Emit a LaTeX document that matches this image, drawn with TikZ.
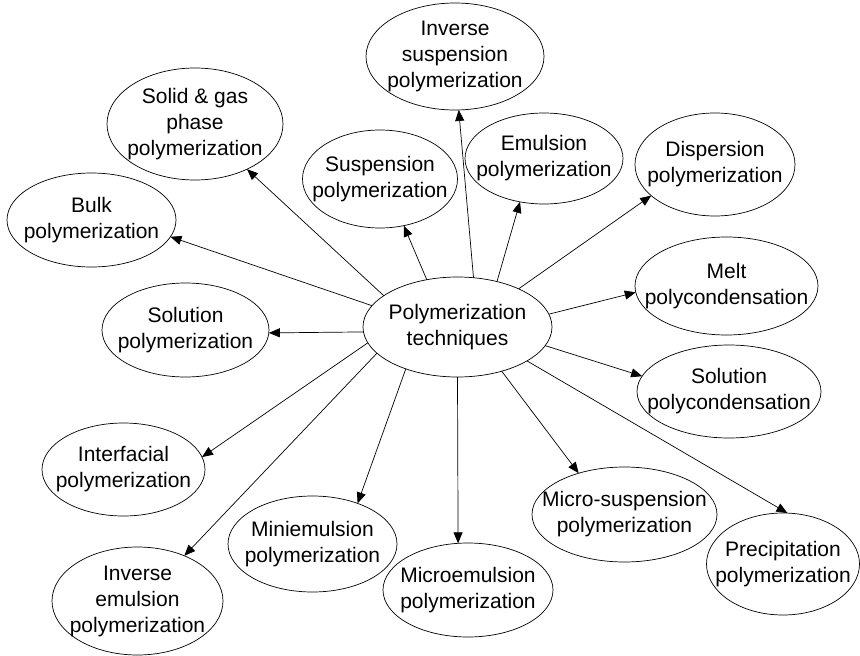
\documentclass[tikz,border=0pt]{standalone}
\usepackage{fontspec}
\setmainfont{Liberation Sans}
\usetikzlibrary{shapes.geometric,arrows.meta}
\tikzset{
  el/.style n args={3}{ellipse, draw, line width=0.7pt, minimum width=#1pt, minimum height=#2pt,
    inner sep=0pt, outer sep=0pt,
    label={[align=center, font=\fontsize{21}{26}\selectfont, inner sep=0pt]center:#3}},
  arr/.style={line width=0.7pt, -{Triangle[length=11pt,width=9pt]}}
}
\begin{document}
\begin{tikzpicture}[x=1pt,y=-1pt]
\useasboundingbox (0,0) rectangle (860,656);
\node[el={189}{100}{Polymerization\\techniques}] (c) at (457.5,327) {};
\node[el={178}{107}{Inverse\\suspension\\polymerization}] (isp) at (455,56.5) {};
\node[el={155}{98}{Suspension\\polymerization}] (sus) at (380,179) {};
\node[el={158}{91}{Emulsion\\polymerization}] (emu) at (544,158.5) {};
\node[el={160}{103}{Dispersion\\polymerization}] (dis) at (715,164.5) {};
\node[el={183}{98}{Melt\\polycondensation}] (mel) at (726.5,286) {};
\node[el={184}{93}{Solution\\polycondensation}] (spc) at (729,391.5) {};
\node[el={153}{102}{Precipitation\\polymerization}] (pre) at (783,564) {};
\node[el={185}{95}{Micro-suspension\\polymerization}] (msu) at (624.5,514.5) {};
\node[el={170}{94}{Microemulsion\\polymerization}] (mie) at (468,590) {};
\node[el={169}{96}{Miniemulsion\\polymerization}] (mne) at (312.5,544) {};
\node[el={171}{108}{Inverse\\emulsion\\polymerization}] (iem) at (137.5,601) {};
\node[el={163}{93}{Interfacial\\polymerization}] (int) at (123.5,469.5) {};
\node[el={167}{94}{Solution\\polymerization}] (sol) at (185.5,330) {};
\node[el={169}{94}{Bulk\\polymerization}] (blk) at (91.5,220) {};
\node[el={176}{112}{Solid \& gas\\phase\\polymerization}] (sgp) at (195,124) {};

\draw[arr] (c.72.8) -- (isp.-86.8);
\draw[arr] (c.123) -- (sus.-63);
\draw[arr] (c.49.2) -- (emu.-119.7);
\draw[arr] (c.32.6) -- (dis.-154.1);
\draw[arr] (c.8.6) -- (mel.184.3);
\draw[arr] (c.-12.9) -- (spc.170.5);
\draw[arr] (c.-26.7) -- (pre.85);
\draw[arr] (c.-45.3) -- (msu.138.2);
\draw[arr] (c.-90) -- (mie.102);
\draw[arr] (c.-141.7) -- (mne.42.7);
\draw[arr] (c.-162.5) -- (iem.44.1);
\draw[arr] (c.-170.8) -- (int.9.85);
\draw[arr] (c.183.6) -- (sol.-2);
\draw[arr] (c.166.8) -- (blk.-12.2);
\draw[arr] (c.157) -- (sgp.-41.6);
\end{tikzpicture}
\end{document}
